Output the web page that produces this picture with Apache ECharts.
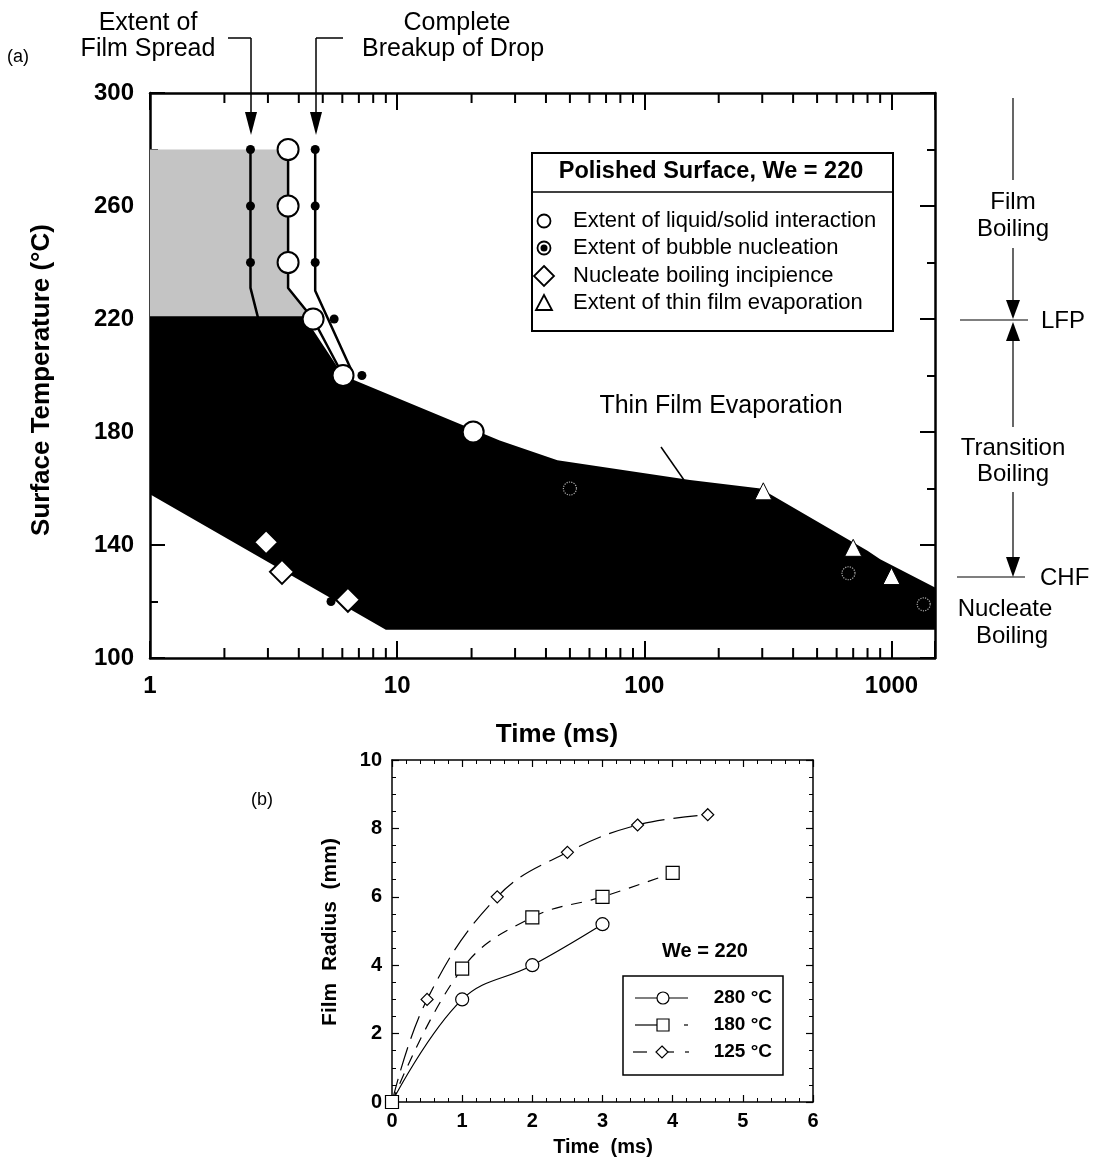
<!DOCTYPE html>
<html><head><meta charset="utf-8">
<script src="https://cdn.jsdelivr.net/npm/echarts@6/dist/echarts.min.js"></script>
<style>html,body{margin:0;padding:0;background:#fff}#c{width:1104px;height:1157px}</style>
</head><body><div id="c"></div><script>
const FONT = '"Liberation Sans", Arial, Helvetica, sans-serif';

// ---------- Panel (a) data ----------
const aXTickLabels = [1, 10, 100, 1000];
const aYTickLabels = [100, 140, 180, 220, 260, 300];
const logMinorTicks = [2,3,4,5,6,7,8,9,20,30,40,50,60,70,80,90,200,300,400,500,600,700,800,900];

// film boiling / transition region outlines (Time ms, Temperature C)
const greyRegion = [[1,280],[3.62,280],[3.62,231],[4.57,220],[1,220]];
const blackRegion = [[1,221],[4.2,221],[6.04,200],[26,177],[44.5,170],[153,163],[295,160],[800,138],[900,135],[1500,125],[1500,110],[9,110],[1,158]];

// extent of film spread (small dots + line)
const spreadDots = [[2.55,280],[2.55,260],[2.55,240]];
const spreadPath = [[2.55,280],[2.55,231],[2.78,218]];
// complete breakup of drop (small dots + line)
const breakupDots = [[4.66,280],[4.66,260],[4.66,240]];
const breakupPath = [[4.66,280],[4.66,230],[6.6,201]];
// extent of liquid/solid interaction (open circles)
const liquidSolid = [[3.62,280],[3.62,260],[3.62,240],[4.57,220],[6.04,200],[20.3,180]];
const liquidSolidPath = [[3.62,280],[3.62,231],[4.57,220],[6.04,200]];
// extra nucleation dots
const nucleationDots = [[5.56,220],[7.2,200],[5.4,120]];
// extent of bubble nucleation (rings inside black region)
const bubbleNucleation = [[50,160],[670,130],[1350,119]];
// nucleate boiling incipience
const incipience = [[2.95,141],[3.42,130.5],[6.32,120.6]];
// extent of thin film evaporation
const thinFilm = [[303,159],[700,139],[1000,129]];

// ---------- Panel (b) data ----------
const bSeriesNames = ['280 °C', '180 °C', '125 °C'];
const r280 = [[0,0],[1,3],[2,4],[3,5.2]];
const r180 = [[0,0],[1,3.9],[2,5.4],[3,6],[4,6.7]];
const r125 = [[0,0],[0.5,3],[1.5,6],[2.5,7.3],[3.5,8.1],[4.5,8.4]];

const BLK = '#000';
const isPow10 = v => Math.abs(Math.log10(v) - Math.round(Math.log10(v))) < 1e-6;

function txt(x, y, text, size, opts) {
  return Object.assign({type:'text', x, y, silent:true, style:Object.assign({text, fill:BLK, font: (opts&&opts.weight?opts.weight+' ':'') + size + 'px ' + FONT, textAlign:'center', textVerticalAlign:'middle'}, opts&&opts.style)}, opts&&opts.el);
}
function ln(x1,y1,x2,y2,w,dash){return {type:'line', silent:true, shape:{x1,y1,x2,y2}, style:{stroke:BLK, lineWidth:w||1.5, lineDash:dash||null}};}
function tri(points){return {type:'polygon', silent:true, shape:{points}, style:{fill:BLK}};}
function raise(el){el.z = 51; return el;}

const graphics = [
  txt(18,57,'(a)',18),
  txt(262,800,'(b)',18),
  // top annotations
  txt(148,23,'Extent of',25), txt(148,49,'Film Spread',25),
  ln(228,38,251,38,1.5), ln(251,38,251,115,1.5), tri([[245,112],[257,112],[251,135]]),
  txt(457,23,'Complete',25), txt(362,49,'Breakup of Drop',25,{style:{textAlign:'left'}}),
  ln(343,38,316,38,1.5), ln(316,38,316,115,1.5), tri([[310,112],[322,112],[316,135]]),
  // right annotations
  ln(1013,98,1013,180,1.2),
  txt(1013,202,'Film',24), txt(1013,229,'Boiling',24),
  ln(1013,248,1013,302,1.2), tri([[1006,300],[1020,300],[1013,319]]),
  ln(960,320,1028,320,1.2), txt(1041,321,'LFP',24,{style:{textAlign:'left'}}),
  tri([[1006,341],[1020,341],[1013,322]]), ln(1013,340,1013,427,1.2),
  txt(1013,448,'Transition',24), txt(1013,474,'Boiling',24),
  ln(1013,492,1013,559,1.2), tri([[1006,557],[1020,557],[1013,577]]),
  ln(957,577,1025,577,1.2), txt(1040,578,'CHF',24,{style:{textAlign:'left'}}),
  txt(1005,609,'Nucleate',24), txt(1012,636,'Boiling',24),
  // thin film annotation
  txt(721,406,'Thin Film Evaporation',25),
  ln(661,447,684,480,1.5),
  // axis titles (a)
  txt(557,735,'Time (ms)',26,{weight:'bold'}),
  txt(42,380,'Surface Temperature (°C)',26,{weight:'bold', el:{rotation:Math.PI/2}}),
  // legend (a)
  {type:'rect', silent:true, shape:{x:532,y:153,width:361,height:178}, style:{fill:'#fff',stroke:BLK,lineWidth:2}, z:50},
  raise(ln(532,192,893,192,1.5)),
  raise(txt(711,172,'Polished Surface, We = 220',23.5,{weight:'bold'})),
  {type:'circle', silent:true, z:51, shape:{cx:544,cy:221,r:6.5}, style:{fill:'#fff',stroke:BLK,lineWidth:1.8}},
  raise(txt(573,221,'Extent of liquid/solid interaction',22,{style:{textAlign:'left'}})),
  {type:'circle', silent:true, z:51, shape:{cx:544,cy:248,r:6.5}, style:{fill:'#fff',stroke:BLK,lineWidth:1.8}},
  {type:'circle', silent:true, z:52, shape:{cx:544,cy:248,r:3.5}, style:{fill:BLK}},
  raise(txt(573,248,'Extent of bubble nucleation',22,{style:{textAlign:'left'}})),
  {type:'polygon', silent:true, z:51, shape:{points:[[544,266],[554,276],[544,286],[534,276]]}, style:{fill:'#fff',stroke:BLK,lineWidth:1.8}},
  raise(txt(573,276,'Nucleate boiling incipience',22,{style:{textAlign:'left'}})),
  {type:'polygon', silent:true, z:51, shape:{points:[[544,295],[552,310],[536,310]]}, style:{fill:'#fff',stroke:BLK,lineWidth:1.8}},
  raise(txt(573,303,'Extent of thin film evaporation',22,{style:{textAlign:'left'}})),
  // axis titles (b)
  txt(603,1147,'Time  (ms)',20,{weight:'bold'}),
  txt(330,932,'Film  Radius  (mm)',21,{weight:'bold', el:{rotation:Math.PI/2}}),
  // legend (b)
  txt(705,951,'We = 220',20,{weight:'bold'}),
  {type:'rect', silent:true, shape:{x:623,y:976,width:160,height:99}, style:{fill:'#fff',stroke:BLK,lineWidth:1.5}, z:50},
  raise(ln(635,998,688,998,1.2)),
  {type:'circle', silent:true, z:52, shape:{cx:663,cy:998,r:6}, style:{fill:'#fff',stroke:BLK,lineWidth:1.2}},
  raise(txt(772,998,'280 °C',19,{weight:'bold',style:{textAlign:'right'}})),
  raise(ln(635,1025,663,1025,1.2)), raise(ln(684,1025,688,1025,1.2)),
  {type:'rect', silent:true, z:52, shape:{x:657,y:1019,width:12,height:12}, style:{fill:'#fff',stroke:BLK,lineWidth:1.2}},
  raise(txt(772,1025,'180 °C',19,{weight:'bold',style:{textAlign:'right'}})),
  raise(ln(633,1052,647,1052,1.2)), raise(ln(668,1052,674,1052,1.2)), raise(ln(685,1052,689,1052,1.2)),
  {type:'polygon', silent:true, z:52, shape:{points:[[662,1046],[668,1052],[662,1058],[656,1052]]}, style:{fill:'#fff',stroke:BLK,lineWidth:1.2}},
  raise(txt(772,1052,'125 °C',19,{weight:'bold',style:{textAlign:'right'}}))
];

function polyRender(points, fill) {
  return function (params, api) {
    if (params.dataIndex !== 0) return null;
    return {type:'polygon', shape:{points: points.map(p => api.coord(p))}, style:{fill}};
  };
}

const aLabel = {color:BLK, fontSize:24, fontWeight:'bold', fontFamily:FONT};
const bLabel = {color:BLK, fontSize:20, fontWeight:'bold', fontFamily:FONT};

function bAxis(extra) {
  return Object.assign({
    axisLine:{show:true, onZero:false, lineStyle:{color:BLK,width:1.5}},
    axisTick:{show:true,inside:true,length:7,lineStyle:{color:BLK,width:1.2}},
    splitLine:{show:false}
  }, extra);
}

const option = {
  animation:false,
  backgroundColor:'#fff',
  grid:[
    {left:150, top:93, width:785, height:565},
    {left:392, top:760, width:421, height:342}
  ],
  xAxis:[
    {type:'log', gridIndex:0, position:'bottom', min:1, max:1500, logBase:10,
     axisLine:{onZero:false, lineStyle:{color:BLK,width:2.5}},
     axisTick:{inside:true,length:17,lineStyle:{color:BLK,width:2}},
     axisLabel:Object.assign({margin:16, formatter:v => (isPow10(v) && aXTickLabels.indexOf(Math.round(v))>=0) ? String(Math.round(v)) : ''}, aLabel),
     splitLine:{show:false}},
    {type:'log', gridIndex:0, position:'top', min:1, max:1500, logBase:10,
     axisLine:{onZero:false, lineStyle:{color:BLK,width:2.5}},
     axisTick:{inside:true,length:17,lineStyle:{color:BLK,width:2}},
     axisLabel:{show:false}, splitLine:{show:false}},
    bAxis({type:'value', gridIndex:1, position:'bottom', min:0, max:6, interval:1,
     minorTick:{show:true,splitNumber:5,length:4,lineStyle:{color:BLK,width:1}},
     axisLabel:Object.assign({margin:9}, bLabel)}),
    bAxis({type:'value', gridIndex:1, position:'top', min:0, max:6, interval:1,
     minorTick:{show:true,splitNumber:5,length:4,lineStyle:{color:BLK,width:1}},
     axisLabel:{show:false}})
  ],
  yAxis:[
    {type:'value', gridIndex:0, position:'left', min:100, max:300, interval:40,
     axisLine:{show:true,onZero:false,lineStyle:{color:BLK,width:2.5}},
     axisTick:{show:true,inside:true,length:15,lineStyle:{color:BLK,width:2}},
     minorTick:{show:true,splitNumber:2,length:8,lineStyle:{color:BLK,width:2}},
     axisLabel:Object.assign({margin:16, formatter:v => aYTickLabels.indexOf(v)>=0 ? String(v) : ''}, aLabel),
     splitLine:{show:false}},
    {type:'value', gridIndex:0, position:'right', min:100, max:300, interval:40,
     axisLine:{show:true,onZero:false,lineStyle:{color:BLK,width:2.5}},
     axisTick:{show:true,inside:true,length:15,lineStyle:{color:BLK,width:2}},
     minorTick:{show:true,splitNumber:2,length:8,lineStyle:{color:BLK,width:2}},
     axisLabel:{show:false}, splitLine:{show:false}},
    bAxis({type:'value', gridIndex:1, position:'left', min:0, max:10, interval:2,
     minorTick:{show:true,splitNumber:4,length:4,lineStyle:{color:BLK,width:1}},
     axisLabel:Object.assign({margin:10}, bLabel)}),
    bAxis({type:'value', gridIndex:1, position:'right', min:0, max:10, interval:2,
     minorTick:{show:true,splitNumber:4,length:4,lineStyle:{color:BLK,width:1}},
     axisLabel:{show:false}})
  ],
  graphic: graphics,
  series:[
    {type:'custom', name:'grey', xAxisIndex:0, yAxisIndex:0, data:greyRegion, renderItem:polyRender(greyRegion,'#c4c4c4'), silent:true, z:1, clip:false},
    {type:'custom', name:'black', xAxisIndex:0, yAxisIndex:0, data:blackRegion, renderItem:polyRender(blackRegion,'#000'), silent:true, z:2, clip:false},
    {type:'custom', name:'minorTicks', xAxisIndex:0, yAxisIndex:0, data:logMinorTicks.map(v=>[v,200]), silent:true, z:6, clip:false,
     renderItem:(p, api) => {
       const v = api.value(0);
       const b = api.coord([v,100]), t = api.coord([v,300]);
       return {type:'group', children:[
         {type:'line', shape:{x1:b[0],y1:b[1],x2:b[0],y2:b[1]-10}, style:{stroke:BLK,lineWidth:2}},
         {type:'line', shape:{x1:t[0],y1:t[1],x2:t[0],y2:t[1]+10}, style:{stroke:BLK,lineWidth:2}}
       ]};
     }},
    {type:'line', xAxisIndex:0, yAxisIndex:0, data:spreadPath, showSymbol:false, symbol:'none', lineStyle:{color:BLK,width:2.5}, z:3, silent:true},
    {type:'line', xAxisIndex:0, yAxisIndex:0, data:breakupPath, showSymbol:false, symbol:'none', lineStyle:{color:BLK,width:2.5}, z:3, silent:true},
    {type:'line', xAxisIndex:0, yAxisIndex:0, data:liquidSolidPath, showSymbol:false, symbol:'none', lineStyle:{color:BLK,width:2.5}, z:3, silent:true},
    {type:'scatter', xAxisIndex:0, yAxisIndex:0, data:spreadDots.concat(breakupDots, nucleationDots), symbol:'circle', symbolSize:9, itemStyle:{color:BLK,opacity:1}, z:4, silent:true},
    {type:'scatter', xAxisIndex:0, yAxisIndex:0, data:liquidSolid, symbol:'circle', symbolSize:21, itemStyle:{color:'#fff',borderColor:BLK,borderWidth:2,opacity:1}, z:5, silent:true},
    {type:'scatter', xAxisIndex:0, yAxisIndex:0, data:bubbleNucleation, symbol:'circle', symbolSize:13, itemStyle:{color:BLK,borderColor:'#aaa',borderWidth:1.2,borderType:'dotted',opacity:1}, z:5, silent:true},
    {type:'scatter', xAxisIndex:0, yAxisIndex:0, data:incipience, symbol:'diamond', symbolSize:[24,24], itemStyle:{color:'#fff',borderColor:BLK,borderWidth:2,opacity:1}, z:5, silent:true},
    {type:'scatter', xAxisIndex:0, yAxisIndex:0, data:thinFilm, symbol:'triangle', symbolSize:[17,17], itemStyle:{color:'#fff',borderColor:BLK,borderWidth:1,opacity:1}, z:5, silent:true},
    // panel (b)
    {type:'line', name:bSeriesNames[0], xAxisIndex:2, yAxisIndex:2, data:r280, smooth:0.4, symbol:'circle', symbolSize:13, showAllSymbol:true,
     lineStyle:{color:BLK,width:1.2}, itemStyle:{color:'#fff',borderColor:BLK,borderWidth:1.2,opacity:1}, z:3, silent:true},
    {type:'line', name:bSeriesNames[1], xAxisIndex:2, yAxisIndex:2, data:r180, smooth:0.4, symbol:'rect', symbolSize:13, showAllSymbol:true,
     lineStyle:{color:BLK,width:1.2,type:[11,9]}, itemStyle:{color:'#fff',borderColor:BLK,borderWidth:1.2,opacity:1}, z:5, silent:true},
    {type:'line', name:bSeriesNames[2], xAxisIndex:2, yAxisIndex:2, data:r125, smooth:0.4, symbol:'diamond', symbolSize:12, showAllSymbol:true,
     lineStyle:{color:BLK,width:1.2,type:[24,9]}, itemStyle:{color:'#fff',borderColor:BLK,borderWidth:1.2,opacity:1}, z:4, silent:true}
  ]
};
const chart = echarts.init(document.getElementById('c'));
chart.setOption(option);
</script></body></html>
